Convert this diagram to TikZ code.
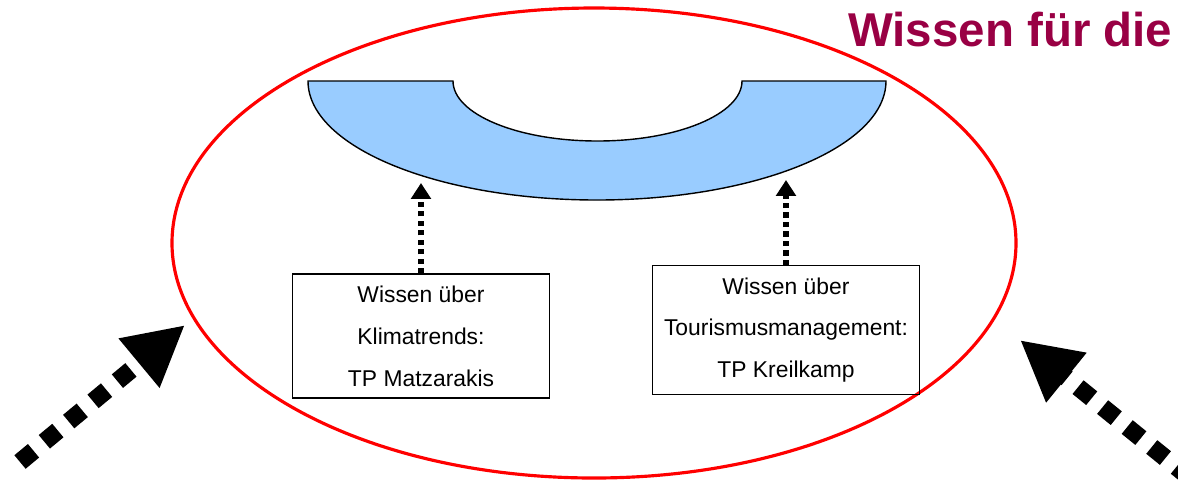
\documentclass[tikz,border=0pt]{standalone}
\usepackage{fontspec}
\setmainfont{Liberation Sans}
\usetikzlibrary{arrows.meta,positioning}
\definecolor{titlered}{RGB}{153,0,68}
\definecolor{bandblue}{RGB}{153,204,255}
\tikzset{
  wbox/.style={rectangle, draw, thin, align=center, minimum width=2.57cm,
    minimum height=1.24cm, font=\fontsize{6.5}{11.9}\selectfont},
  smallflow/.style={-{Triangle[length=4.5pt,width=5.5pt]}, line width=1.5pt,
    dash pattern=on 1.5pt off 1.2pt},
  bigflow/.style={-{Triangle[length=17pt,width=17pt]}, line width=5pt,
    dash pattern=on 5pt off 4pt}
}

\begin{document}
\begin{tikzpicture}[x=0.01cm,y=-0.01cm]
  \clip (0,0) rectangle (1178,484);
  \useasboundingbox (0,0) rectangle (1178,484);

  % title
  \node[anchor=base east, inner sep=0pt, text=titlered, font=\fontsize{13.5}{16}\selectfont\bfseries]
    (title) at (1173,46) {Wissen für die};

  % ellipse
  \draw[red, line width=0.9pt] (594,243) ellipse [x radius=422, y radius=235];

  % blue band
  \filldraw[fill=bandblue, draw=black, thin] (308,81)
    arc[start angle=180, end angle=0, x radius=289, y radius=119]
    -- (742,81)
    arc[start angle=0, end angle=180, x radius=144.5, y radius=60]
    -- cycle;

  \node[wbox] (klima) at (421,336) {Wissen über\\Klimatrends:\\TP Matzarakis};
  \node[wbox] (tour)  at (786,330) {Wissen über\\Tourismusmanagement:\\TP Kreilkamp};

  \coordinate (klimatop) at (421,183);
  \coordinate (tourtop) at (786,180);
  \draw[smallflow] (klima.north) -- (klimatop);
  \draw[smallflow] (tour.north) -- (tourtop);

  % outer arrows
  \coordinate (lstart) at (20,462);
  \coordinate (lend) at (185,325);
  \coordinate (rstart) at (1190,478);
  \coordinate (rend) at (1020,340);
  \draw[bigflow] (lstart) -- (lend);
  \draw[bigflow] (rstart) -- (rend);
\end{tikzpicture}
\end{document}
